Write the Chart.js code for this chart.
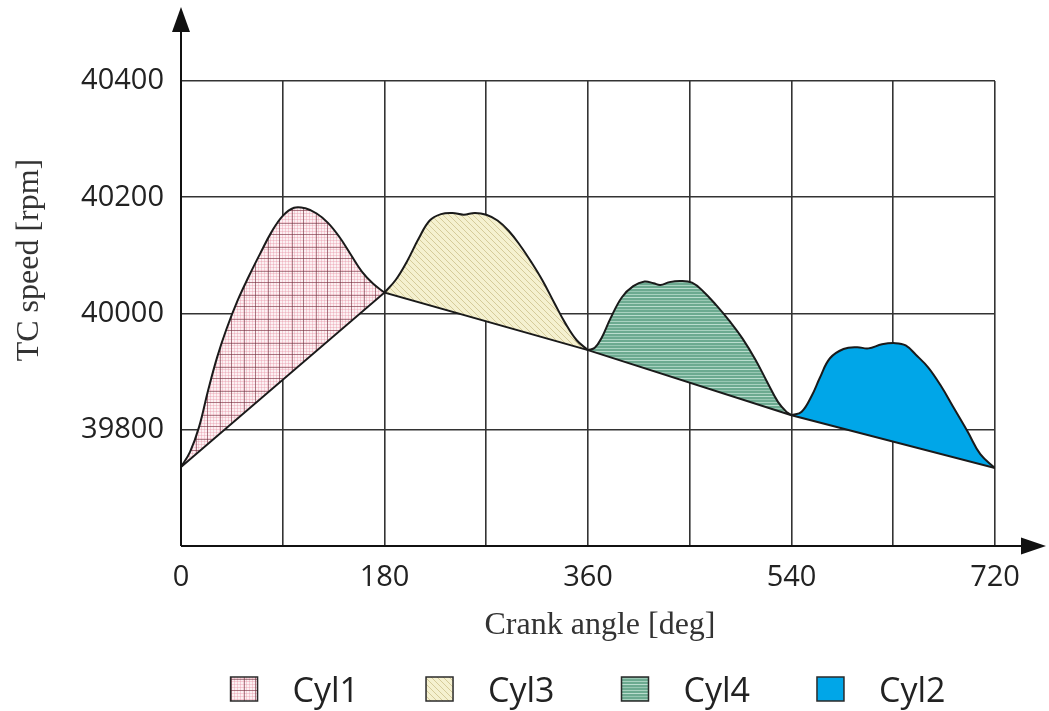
<!DOCTYPE html>
<html>
<head>
<meta charset="utf-8">
<script src="https://cdn.jsdelivr.net/npm/chart.js@4.4.1/dist/chart.umd.min.js"></script>
<style>
  html, body { margin: 0; padding: 0; background: #ffffff; }
  #wrap { width: 1049px; height: 711px; }
</style>
</head>
<body>
<div id="wrap"><canvas id="speedChart"></canvas></div>
<script>
// axis ticks
const speedTicks = [39800, 40000, 40200, 40400];
const angleLabels = [0, 180, 360, 540, 720];

// straight line joining the speed minima between firings
const baseAngle = [0, 180, 360, 540, 720];
const baseSpeed = [39736, 40036, 39937, 39825, 39734];

// speed rise during each cylinder's firing window
const cyl1Angle = [0, 8, 16, 24, 32, 40, 50, 60, 70, 80, 90, 100, 110, 120, 130, 140, 150, 160, 170, 180];
const cyl1Speed = [39736, 39762, 39805, 39868, 39925, 39972, 40022, 40064, 40103, 40140, 40168, 40182, 40181, 40172, 40156, 40132, 40102, 40072, 40051, 40036];

const cyl3Angle = [180, 190, 200, 210, 220, 230, 240, 250, 260, 270, 280, 290, 300, 310, 320, 330, 340, 350, 360];
const cyl3Speed = [40036, 40058, 40090, 40128, 40160, 40171, 40173, 40170, 40173, 40170, 40160, 40142, 40117, 40088, 40056, 40019, 39983, 39954, 39937];

const cyl4Angle = [360, 366, 372, 380, 390, 400, 410, 418, 424, 432, 442, 452, 462, 474, 486, 497, 508, 518, 528, 536, 540];
const cyl4Speed = [39937, 39941, 39958, 39992, 40028, 40047, 40055, 40052, 40049, 40054, 40056, 40053, 40038, 40013, 39985, 39956, 39921, 39884, 39848, 39830, 39825];

const cyl2Angle = [540, 549, 558, 565, 574, 586, 598, 608, 620, 632, 641, 650, 661, 672, 684, 696, 707, 720];
const cyl2Speed = [39825, 39831, 39859, 39889, 39923, 39939, 39942, 39940, 39947, 39949, 39945, 39929, 39907, 39876, 39836, 39796, 39758, 39734];

const cylinderNames = ["Cyl1", "Cyl3", "Cyl4", "Cyl2"];

function makePattern(w, h, paint) {
  const tile = document.createElement("canvas");
  tile.width = w;
  tile.height = h;
  paint(tile.getContext("2d"), w, h);
  return document.createElement("canvas").getContext("2d").createPattern(tile, "repeat");
}

// pink check: faint pink mesh with a few darker threads
const checkPink = makePattern(24, 24, (g, w, h) => {
  g.fillStyle = "#fcf1f3";
  g.fillRect(0, 0, w, h);
  g.fillStyle = "rgba(230, 140, 160, 0.35)";
  for (let i = 0; i < w; i += 3) {
    g.fillRect(i, 0, 1, h);
    g.fillRect(0, i, w, 1);
  }
  g.fillStyle = "rgba(110, 45, 60, 0.55)";
  [4, 15].forEach((x) => g.fillRect(x, 0, 1, h));
  [7, 18].forEach((y) => g.fillRect(0, y, w, 1));
});

// cream with thin falling diagonals
const hatchCream = makePattern(6, 6, (g, w, h) => {
  g.fillStyle = "#f5f1d0";
  g.fillRect(0, 0, w, h);
  g.strokeStyle = "rgba(185, 172, 110, 0.55)";
  g.lineWidth = 1;
  g.beginPath();
  [-6, 0, 6].forEach((k) => {
    g.moveTo(k, 0);
    g.lineTo(k + 6, 6);
  });
  g.stroke();
});

// green with light horizontal stripes
const stripeGreen = makePattern(4, 9, (g, w, h) => {
  g.fillStyle = "#6caa90";
  g.fillRect(0, 0, w, h);
  g.fillStyle = "rgba(220, 242, 232, 0.7)";
  g.fillRect(0, 0, w, 1);
  g.fillStyle = "rgba(220, 242, 232, 0.4)";
  g.fillRect(0, 3, w, 1);
  g.fillStyle = "rgba(220, 242, 232, 0.55)";
  g.fillRect(0, 6, w, 1);
});

const solidBlue = "#00a6e8";

const fills = [checkPink, hatchCream, stripeGreen, solidBlue];
const curves = [
  [cyl1Angle, cyl1Speed],
  [cyl3Angle, cyl3Speed],
  [cyl4Angle, cyl4Speed],
  [cyl2Angle, cyl2Speed]
];

function toPoints(xs, ys) {
  return xs.map((x, i) => ({ x, y: ys[i] }));
}

const datasets = [
  {
    label: "base",
    data: toPoints(baseAngle, baseSpeed),
    borderColor: "#1a1a1a",
    borderWidth: 2,
    pointRadius: 0,
    fill: false,
    tension: 0
  },
  ...curves.map(([xs, ys], i) => ({
    label: cylinderNames[i],
    data: toPoints(xs, ys),
    borderColor: "#1a1a1a",
    borderWidth: 2,
    pointRadius: 0,
    backgroundColor: fills[i],
    fill: { target: 0 },
    tension: 0.4
  }))
];

// arrows on the axes, axis titles and the key underneath
const frameAndKey = {
  id: "frameAndKey",
  afterDraw(chart) {
    const { ctx, chartArea: a } = chart;
    ctx.save();

    ctx.strokeStyle = "#111";
    ctx.fillStyle = "#111";
    ctx.lineWidth = 2;
    ctx.beginPath();
    ctx.moveTo(a.left, a.bottom);
    ctx.lineTo(a.left, a.top - 52);
    ctx.moveTo(a.left, a.bottom);
    ctx.lineTo(a.right + 28, a.bottom);
    ctx.stroke();

    ctx.beginPath();
    ctx.moveTo(a.left, a.top - 74);
    ctx.lineTo(a.left - 9, a.top - 49);
    ctx.lineTo(a.left + 9, a.top - 49);
    ctx.closePath();
    ctx.fill();

    ctx.beginPath();
    ctx.moveTo(a.right + 51, a.bottom);
    ctx.lineTo(a.right + 26, a.bottom - 8.5);
    ctx.lineTo(a.right + 26, a.bottom + 8.5);
    ctx.closePath();
    ctx.fill();

    // axis titles
    ctx.fillStyle = "#333";
    ctx.font = "32px 'Liberation Serif'";
    ctx.textAlign = "center";
    ctx.textBaseline = "middle";
    ctx.fillText("Crank angle [deg]", (a.left + a.right) / 2 + 12, a.bottom + 80);
    ctx.save();
    ctx.translate(30, a.top + (a.bottom - a.top) * 0.385);
    ctx.rotate(-Math.PI / 2);
    ctx.fillText("TC speed [rpm]", 0, 0);
    ctx.restore();

    // key
    const box = { w: 27, h: 24 };
    const gap = 35;
    const spacing = 67;
    ctx.font = "34px 'Open Sans'";
    ctx.textAlign = "left";
    ctx.textBaseline = "alphabetic";
    const widths = cylinderNames.map((n) => ctx.measureText(n).width);
    const total = widths.reduce((s, w) => s + box.w + gap + w, 0) + spacing * (cylinderNames.length - 1);
    let x = (a.left + a.right) / 2 - total / 2;
    const boxTop = a.bottom + 131;
    cylinderNames.forEach((name, i) => {
      ctx.fillStyle = fills[i];
      ctx.fillRect(x, boxTop, box.w, box.h);
      ctx.strokeStyle = "#2a2a2a";
      ctx.lineWidth = 1.5;
      ctx.strokeRect(x, boxTop, box.w, box.h);
      ctx.fillStyle = "#222";
      ctx.fillText(name, x + box.w + gap, boxTop + box.h + 1);
      x += box.w + gap + widths[i] + spacing;
    });

    ctx.restore();
  }
};

Chart.defaults.font.family = "'Open Sans'";
Chart.defaults.color = "#222";

new Chart(document.getElementById("speedChart"), {
  type: "line",
  data: { datasets },
  options: {
    responsive: true,
    maintainAspectRatio: false,
    animation: false,
    layout: { padding: { top: 81, right: 54, left: 0, bottom: 0 } },
    plugins: {
      legend: { display: false },
      tooltip: { enabled: false }
    },
    scales: {
      x: {
        type: "linear",
        min: 0,
        max: 720,
        afterFit: (scale) => { scale.height = 165; },
        grid: { color: "#333", lineWidth: 1.6, drawTicks: false },
        border: { display: false },
        ticks: {
          stepSize: 90,
          autoSkip: false,
          maxRotation: 0,
          padding: 14,
          font: { size: 29 },
          callback: (v) => (angleLabels.includes(v) ? String(v) : "")
        }
      },
      y: {
        min: 39600,
        max: 40400,
        afterFit: (scale) => { scale.width = 181; },
        afterBuildTicks: (scale) => { scale.ticks = speedTicks.map((v) => ({ value: v })); },
        grid: { color: "#333", lineWidth: 1.6, drawTicks: false },
        border: { display: false },
        ticks: {
          padding: 17,
          font: { size: 29 },
          callback: (v) => String(v)
        }
      }
    }
  },
  plugins: [frameAndKey]
});
</script>
</body>
</html>
